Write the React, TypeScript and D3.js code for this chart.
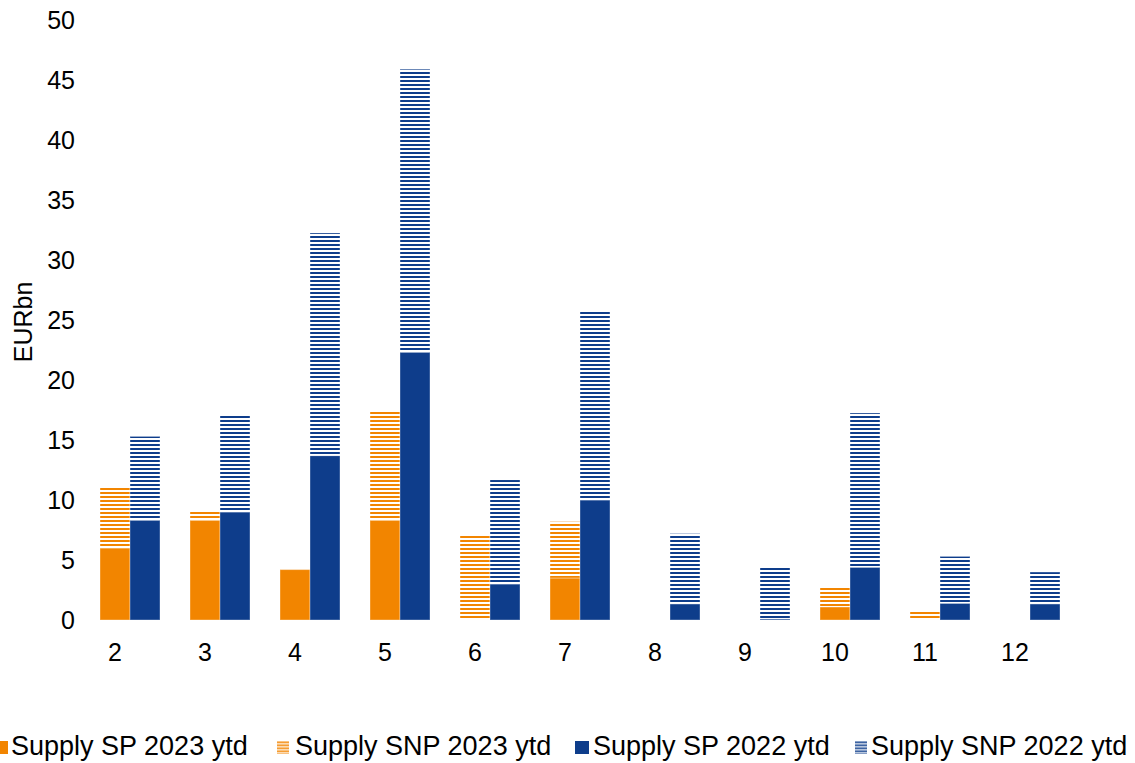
import React from "react";
import * as d3 from "d3";

const categories = ["2", "3", "4", "5", "6", "7", "8", "9", "10", "11", "12"];
const sp2023 = [6.0, 8.3, 4.2, 8.3, 0, 3.5, 0, 0, 1.1, 0, 0];
const snp2023 = [5.1, 0.8, 0, 9.1, 7.1, 4.7, 0, 0, 1.65, 0.75, 0];
const sp2022 = [8.3, 9.0, 13.7, 22.3, 3.0, 10.0, 1.35, 0.1, 4.4, 1.4, 1.35];
const snp2022 = [7.0, 8.1, 18.55, 23.6, 8.7, 15.75, 5.85, 4.3, 12.85, 3.9, 2.65];
const yTicks = [0, 5, 10, 15, 20, 25, 30, 35, 40, 45, 50];
const legendItems = [
  { label: "Supply SP 2023 ytd", color: "#F28500", striped: false, x: -5, w: 13, tx: 11 },
  { label: "Supply SNP 2023 ytd", color: "#F28500", striped: true, x: 277, w: 12, tx: 295 },
  { label: "Supply SP 2022 ytd", color: "#0E3D8B", striped: false, x: 575, w: 14, tx: 593 },
  { label: "Supply SNP 2022 ytd", color: "#0E3D8B", striped: true, x: 855, w: 12, tx: 871 },
];

const ORANGE = "#F28500";
const BLUE = "#0E3D8B";

export default function App() {
  const W = 1135, H = 763;
  const y = d3.scaleLinear().domain([0, 50]).range([620, 20]);
  const x = d3.scaleBand().domain(categories).range([85, 1075]).paddingInner(1 / 3).paddingOuter(1 / 6);
  const bw = x.bandwidth() / 2;
  const font = "Liberation Sans, Arial, sans-serif";
  const stroke = "rgba(255,255,255,0.35)";
  const fs = 25;
  const lfs = 27;

  const seg = (x0: number, v0: number, v1: number, fill: string, key: string) =>
    v1 - v0 > 0 ? (
      <rect key={key} x={x0} y={y(v1)} width={bw} height={y(v0) - y(v1)} fill={fill} stroke={stroke} strokeWidth={1} />
    ) : null;

  return (
    <svg width={W} height={H} style={{ position: "absolute", left: 0, top: 0 }} fontFamily={font}>
      <defs>
        <pattern id="stripeO" patternUnits="userSpaceOnUse" width="8" height="4">
          <rect width="8" height="4" fill="#fff" />
          <rect width="8" height="2" fill={ORANGE} />
        </pattern>
        <pattern id="stripeB" patternUnits="userSpaceOnUse" width="8" height="4">
          <rect width="8" height="4" fill="#fff" />
          <rect width="8" height="2" fill={BLUE} />
        </pattern>
        <pattern id="stripeOs" patternUnits="userSpaceOnUse" width="8" height="3" y="0.5">
          <rect width="8" height="3" fill="#fff" />
          <rect width="8" height="1.6" fill={ORANGE} />
        </pattern>
        <pattern id="stripeBs" patternUnits="userSpaceOnUse" width="8" height="3" y="0.5">
          <rect width="8" height="3" fill="#fff" />
          <rect width="8" height="1.6" fill={BLUE} />
        </pattern>
      </defs>
      <rect width={W} height={H} fill="#fff" />
      {yTicks.map((t) => (
        <text key={t} x={75} y={y(t)} dy="0.35em" textAnchor="end" fontSize={fs} fill="#000">
          {t}
        </text>
      ))}
      <text transform={`translate(32,322) rotate(-90)`} textAnchor="middle" fontSize={fs} fill="#000">
        EURbn
      </text>
      {categories.map((c, i) => {
        const x0 = x(c)!;
        const x1 = x0 + bw;
        return (
          <g key={c}>
            {seg(x0, 0, sp2023[i], ORANGE, "a")}
            {seg(x0, sp2023[i], sp2023[i] + snp2023[i], "url(#stripeO)", "b")}
            {seg(x1, 0, sp2022[i], BLUE, "c")}
            {seg(x1, sp2022[i], sp2022[i] + snp2022[i], "url(#stripeB)", "d")}
            <text x={x0 + bw / 2} y={661} textAnchor="middle" fontSize={fs} fill="#000">
              {c}
            </text>
          </g>
        );
      })}
      {legendItems.map((l) => (
        <g key={l.label}>
          <rect
            x={l.x}
            y={741}
            width={l.w}
            height={13}
            fill={l.striped ? (l.color === ORANGE ? "url(#stripeOs)" : "url(#stripeBs)") : l.color}
          />
          <text x={l.tx} y={755} fontSize={lfs} fill="#000">
            {l.label}
          </text>
        </g>
      ))}
    </svg>
  );
}
